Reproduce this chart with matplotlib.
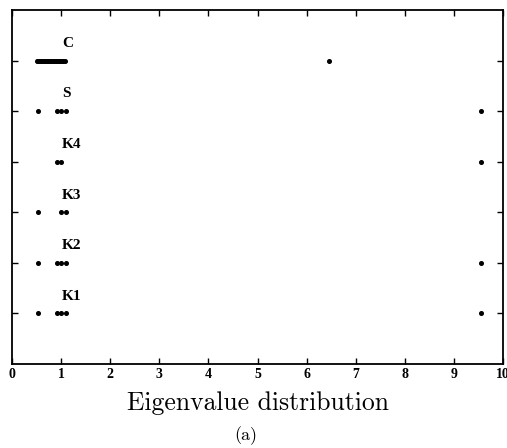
import matplotlib
matplotlib.use("Agg")
import matplotlib.pyplot as plt

# data
row_labels = ["K1", "K2", "K3", "K4", "S", "C"]
row_pos = [1, 2, 3, 4, 5, 6]
eig_K1 = [0.53, 0.92, 1.0, 1.1, 9.55]
eig_K2 = [0.53, 0.92, 1.0, 1.1, 9.55]
eig_K3 = [0.53, 1.0, 1.1]
eig_K4 = [0.92, 1.0, 9.55]
eig_S = [0.53, 0.92, 1.0, 1.1, 9.55]
eig_C = [0.50, 0.53, 0.56, 0.59, 0.62, 0.65, 0.68, 0.71, 0.74, 0.77, 0.80,
         0.83, 0.86, 0.89, 0.92, 0.95, 0.98, 1.01, 1.04, 1.07, 6.45]
series = [eig_K1, eig_K2, eig_K3, eig_K4, eig_S, eig_C]
xticks = list(range(0, 11))

fig = plt.figure(figsize=(5.07, 4.48), dpi=100)
ax = fig.add_axes([12/507, 1-364/448, 491/507, 354/448])

for y, vals, lab in zip(row_pos, series, row_labels):
    ax.plot(vals, [y]*len(vals), 'o', color='black', markersize=2.6, linestyle='none')
    ax.text(1.02, y + 0.34, lab, fontsize=11, fontweight='bold',
            family='Liberation Serif', ha='left', va='center')

ax.set_xlim(0, 10)
ax.set_ylim(0, 7)
ax.set_xticks(xticks)
ax.set_xticklabels([str(t) for t in xticks], fontsize=10, fontweight='bold',
                   family='Liberation Serif')
ax.set_yticks(row_pos)
ax.set_yticklabels([])
ax.tick_params(axis='both', direction='in', length=4, width=1,
               top=True, right=True, pad=3)
for s in ax.spines.values():
    s.set_linewidth(1.3)

fig.text(258/507, 1-403/448, "Eigenvalue distribution", fontsize=18.5,
         family='cmr10', ha='center', va='center')
fig.text(246/507, 1-436/448, "(a)", fontsize=13, family='cmr10',
         ha='center', va='center')

fig.savefig("out.png", dpi=100)
